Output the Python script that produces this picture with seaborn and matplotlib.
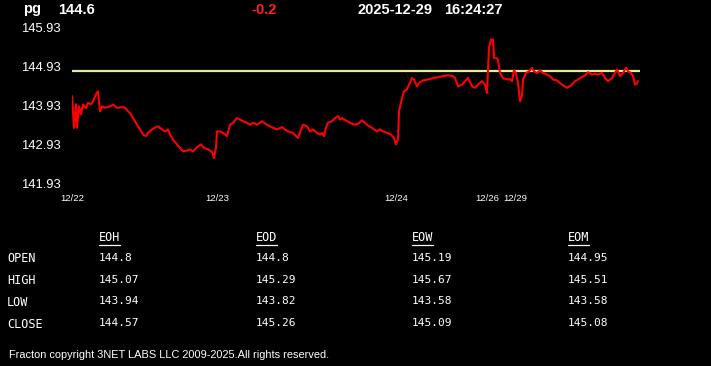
import matplotlib
matplotlib.use("Agg")
import matplotlib.pyplot as plt
import seaborn as sns
import pandas as pd
from matplotlib.lines import Line2D

# ---------------- data ----------------
symbol = "pg"
last_price = "144.6"
change = "-0.2"
stamp_date = "2025-12-29"
stamp_time = "16:24:27"
prev_close = 144.8

bar_index = [0, 2, 4, 5, 7, 9, 11, 14, 16, 19, 21, 24, 26, 28, 30, 33, 38, 41, 45, 50,
             53, 56, 58, 61, 65, 68, 71, 74, 76, 80, 84, 86, 90, 93, 96, 98, 101, 105, 108, 111,
             115, 118, 121, 125, 129, 132, 136, 140, 142, 144, 145, 148, 151, 155, 158, 161, 165, 168, 171, 175,
             178, 181, 185, 190, 195, 198, 201, 205, 210, 213, 216, 221, 226, 229, 231, 235, 238, 241, 245, 248,
             250, 252, 254, 256, 260, 263, 266, 268, 270, 275, 278, 282, 286, 290, 295, 300, 305, 308, 311, 315,
             319, 322, 324, 326, 327, 330, 332, 335, 337, 340, 342, 345, 347, 351, 356, 361, 366, 371, 376, 381,
             383, 386, 390, 393, 396, 400, 403, 406, 410, 413, 415, 417, 419, 421, 422, 424, 426, 428, 431, 436,
             438, 440, 442, 444, 446, 448, 450, 451, 454, 457, 460, 462, 465, 468, 471, 475, 478, 481, 485, 488,
             491, 495, 499, 503, 506, 510, 513, 516, 520, 523, 526, 530, 533, 536, 540, 543, 545, 548, 551, 554,
             556, 559, 561, 563, 565, 566]
price = [144.17, 143.36, 143.96, 143.36, 143.91, 143.71, 143.96, 143.86, 144.00, 143.96, 144.04, 144.22, 144.29, 143.78, 143.91, 143.87, 143.91, 143.95, 143.87, 143.89,
         143.87, 143.78, 143.74, 143.61, 143.44, 143.32, 143.19, 143.15, 143.23, 143.32, 143.38, 143.40, 143.32, 143.27, 143.32, 143.19, 143.06, 142.94, 142.85, 142.76,
         142.78, 142.81, 142.76, 142.87, 142.94, 142.85, 142.81, 142.75, 142.59, 142.85, 143.27, 143.27, 143.23, 143.15, 143.44, 143.49, 143.61, 143.57, 143.53, 143.49,
         143.44, 143.49, 143.44, 143.53, 143.44, 143.40, 143.36, 143.32, 143.38, 143.32, 143.27, 143.23, 143.10, 143.32, 143.44, 143.40, 143.27, 143.32, 143.23, 143.19,
         143.23, 143.15, 143.36, 143.49, 143.53, 143.61, 143.66, 143.57, 143.61, 143.53, 143.49, 143.44, 143.46, 143.55, 143.44, 143.36, 143.27, 143.32, 143.27, 143.23,
         143.19, 143.10, 142.94, 143.07, 143.78, 144.12, 144.29, 144.34, 144.46, 144.63, 144.59, 144.42, 144.50, 144.57, 144.59, 144.63, 144.65, 144.68, 144.70, 144.68,
         144.63, 144.42, 144.46, 144.55, 144.63, 144.42, 144.38, 144.46, 144.55, 144.46, 144.25, 145.40, 145.61, 145.61, 145.14, 145.14, 145.10, 144.76, 144.63, 144.59,
         144.60, 144.55, 144.83, 144.75, 144.50, 144.04, 144.17, 144.59, 144.76, 144.80, 144.89, 144.80, 144.76, 144.83, 144.76, 144.72, 144.68, 144.59, 144.57, 144.50,
         144.44, 144.38, 144.44, 144.55, 144.59, 144.66, 144.69, 144.78, 144.72, 144.74, 144.72, 144.76, 144.63, 144.55, 144.63, 144.76, 144.85, 144.68, 144.76, 144.89,
         144.80, 144.76, 144.68, 144.46, 144.50, 144.55]

date_ticks = [0, 145, 324, 415, 443]
date_labels = ["12/22", "12/23", "12/24", "12/26", "12/29"]
price_ticks = [141.93, 142.93, 143.93, 144.93, 145.93]

row_labels = ["OPEN", "HIGH", "LOW", "CLOSE"]
col_labels = ["EOH", "EOD", "EOW", "EOM"]
eoh = ["144.8", "145.07", "143.94", "144.57"]
eod = ["144.8", "145.29", "143.82", "145.26"]
eow = ["145.19", "145.67", "143.58", "145.09"]
eom = ["144.95", "145.51", "143.58", "145.08"]
footer = "Fracton copyright 3NET LABS LLC 2009-2025.All rights reserved."

# ---------------- figure ----------------
sns.set_style("dark")
plt.rcParams["font.family"] = ["Liberation Sans", "DejaVu Sans"]

W, H = 711, 366
fig = plt.figure(figsize=(W / 100, H / 100), dpi=100, facecolor="black")

def fx(px):
    return px / W

def fy(py):
    return 1 - py / H

ax = fig.add_axes([fx(72), fy(184), fx(640) - fx(72), fy(27) - fy(184)])
ax.set_facecolor("black")

df = pd.DataFrame({"t": bar_index, "price": price})
sns.lineplot(data=df, x="t", y="price", ax=ax, color="#ff0000", linewidth=1.5,
             estimator=None, sort=False)
ax.axhline(prev_close, color="#e4ee8c", linewidth=1.6, zorder=1)

ax.set_xlim(0, 568)
ax.set_ylim(price_ticks[0], price_ticks[-1])
ax.set_xticks(date_ticks)
ax.set_xticklabels(date_labels)
ax.set_yticks(price_ticks)
ax.set_yticklabels([f"{v:.2f}" for v in price_ticks])
ax.set_xlabel("")
ax.set_ylabel("")
ax.grid(False)
for s in ax.spines.values():
    s.set_visible(False)
ax.tick_params(axis="y", length=0, pad=8, labelsize=9.4, labelcolor="white")
ax.tick_params(axis="x", length=2.6, width=0.9, color="white", direction="out",
               pad=4.8, labelsize=6.8, labelcolor="white")

# header
hdr = dict(color="white", fontsize=10.5, fontweight="bold", va="baseline", ha="left")
fig.text(fx(23), fy(13.5), symbol, **hdr)
fig.text(fx(58), fy(13.5), last_price, **hdr)
fig.text(fx(251), fy(13.5), change, **{**hdr, "color": "#ff2020"})
fig.text(fx(358), fy(13.5), stamp_date, **hdr)
fig.text(fx(444), fy(13.5), stamp_time, **hdr)

# table
mono = "DejaVu Sans Mono"
row_y = [259, 280.5, 302, 324]
col_x = [99, 256, 412, 568]
for lab, y in zip(row_labels, row_y):
    fig.text(fx(7), fy(y), lab, color="white", fontsize=8.6, family=mono, va="center", ha="left")
headers = []
for lab, x in zip(col_labels, col_x):
    headers.append(fig.text(fx(x), fy(238), lab, color="white", fontsize=8.6, family=mono,
                            va="center", ha="left"))
for col, x in zip([eoh, eod, eow, eom], col_x):
    for val, y in zip(col, row_y):
        fig.text(fx(x), fy(y - 0.7), val, color="white", fontsize=8, family=mono, va="center", ha="left")

fig.text(fx(9), fy(355.5), footer, color="white", fontsize=7.9, va="center", ha="left")

# underline column headers
fig.canvas.draw()
renderer = fig.canvas.get_renderer()
for t in headers:
    bb = t.get_window_extent(renderer)
    yline = bb.y0 - 0.5
    fig.add_artist(Line2D([bb.x0 / W, bb.x1 / W], [yline / H, yline / H],
                          transform=fig.transFigure, color="white", linewidth=0.9))

fig.savefig("out.png", dpi=100, facecolor="black")
